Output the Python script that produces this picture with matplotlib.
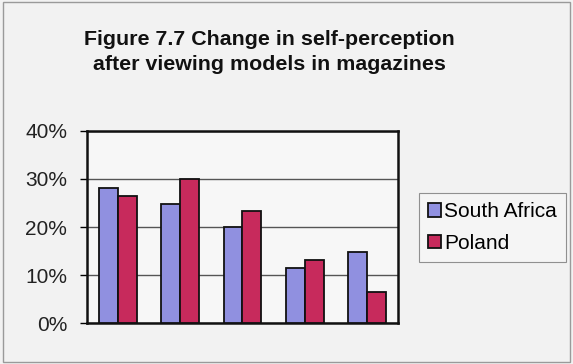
import matplotlib.pyplot as plt
import numpy as np

plt.rcParams['font.family'] = ['Liberation Sans', 'DejaVu Sans']

categories = ['1', '2', '3', '4', '5']
south_africa = np.array([28.2, 24.8, 19.9, 11.4, 14.9])
poland = np.array([26.5, 30.0, 23.4, 13.1, 6.6])
yticks = [0, 10, 20, 30, 40]
ytick_labels = ['0%', '10%', '20%', '30%', '40%']

fig = plt.figure(figsize=(5.73, 3.64), dpi=100)
fig.patch.set_facecolor('#f2f2f2')
# thin scan border
fig.add_artist(plt.Rectangle((0.005, 0.005), 0.99, 0.99, transform=fig.transFigure,
                             fill=False, edgecolor='#9a9a9a', linewidth=1))

ax = fig.add_axes([0.1513, 0.1118, 0.5438, 0.5291])
ax.set_facecolor('#f7f7f7')

x = np.arange(len(categories))
w = 0.3
ax.bar(x - w / 2, south_africa, w, color='#9090e0', edgecolor='#111111', linewidth=1.3,
       label='South Africa', zorder=3)
ax.bar(x + w / 2, poland, w, color='#c72a5c', edgecolor='#111111', linewidth=1.3,
       label='Poland', zorder=3)

ax.set_xlim(-0.5, len(categories) - 0.5)
ax.set_ylim(0, 40)
ax.set_yticks(yticks)
ax.set_yticklabels(ytick_labels, fontsize=15, color='#222222')
ax.set_xticks([])
ax.tick_params(axis='y', length=5, width=1, direction='out', pad=9)
ax.yaxis.grid(True, color='#555555', linewidth=1, zorder=0)
for s in ax.spines.values():
    s.set_linewidth(1.8)
    s.set_color('#111111')

fig.text(0.4705, 0.857, 'Figure 7.7 Change in self-perception\nafter viewing models in magazines',
         ha='center', va='center', fontsize=15.4, fontweight='bold', linespacing=1.35,
         color='#111111')

leg = fig.legend(loc='upper left', bbox_to_anchor=(0.731, 0.47), fontsize=15,
                 frameon=True, fancybox=False, handlelength=0.6, handleheight=0.6,
                 handletextpad=0.15, borderpad=0.45, labelspacing=0.6, borderaxespad=0)
leg.get_frame().set_edgecolor('#777777')
leg.get_frame().set_facecolor('#f7f7f7')
leg.get_frame().set_linewidth(0.8)

plt.savefig('out.png', dpi=100, facecolor=fig.get_facecolor())
